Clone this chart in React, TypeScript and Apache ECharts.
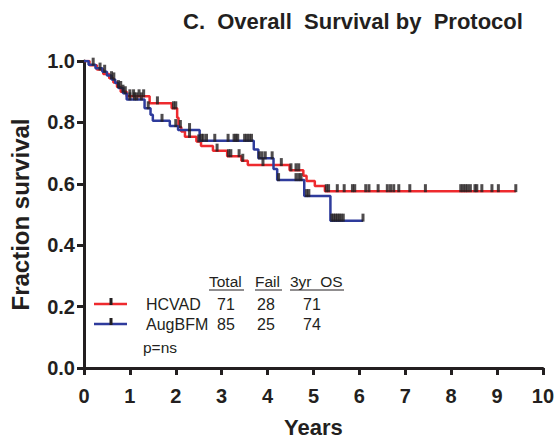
import React, { useEffect, useRef } from "react";
import * as echarts from "echarts";

// ---- data ----
const xTickLabels = ["0", "1", "2", "3", "4", "5", "6", "7", "8", "9", "10"];

const hcvadTimes = [0, 0.12, 0.28, 0.42, 0.55, 0.64, 0.72, 0.8, 0.93, 1.43, 1.91, 2.03, 2.06, 2.12, 2.2, 2.45, 2.55, 2.81, 3.12, 3.43, 3.57, 4.48, 4.78, 4.85, 5.03, 5.25, 9.41];
const hcvadSurv = [1, 0.986, 0.972, 0.958, 0.944, 0.93, 0.915, 0.9, 0.885, 0.862, 0.846, 0.815, 0.785, 0.77, 0.753, 0.738, 0.723, 0.708, 0.69, 0.675, 0.661, 0.644, 0.626, 0.609, 0.593, 0.576, 0.576];
const hcvadCensored = [0.35, 0.6, 0.75, 0.85, 1.0, 1.08, 1.2, 1.3, 1.6, 1.95, 2.0, 2.1, 2.3, 2.5, 2.9, 3.15, 3.2, 3.38, 3.46, 3.9, 4.3, 4.51, 4.62, 4.68, 5.28, 5.33, 5.52, 5.67, 5.85, 5.9, 6.14, 6.21, 6.41, 6.61, 6.68, 6.75, 6.86, 7.1, 7.44, 8.21, 8.26, 8.31, 8.36, 8.42, 8.52, 8.56, 8.67, 8.89, 9.03, 9.41];

const augTimes = [0, 0.1, 0.25, 0.4, 0.5, 0.6, 0.68, 0.75, 0.85, 0.93, 1.32, 1.45, 1.5, 1.87, 2.05, 2.52, 3.7, 3.8, 4.13, 4.21, 4.8, 5.37, 6.08];
const augSurv = [1, 0.988, 0.976, 0.965, 0.953, 0.94, 0.928, 0.912, 0.895, 0.875, 0.846, 0.825, 0.805, 0.788, 0.775, 0.74, 0.712, 0.683, 0.648, 0.612, 0.56, 0.48, 0.48];
const augCensored = [0.2, 0.45, 0.65, 0.8, 0.9, 1.0, 1.1, 1.15, 1.25, 1.4, 1.7, 2.0, 2.3, 2.56, 2.6, 2.67, 2.85, 3.14, 3.27, 3.31, 3.35, 3.5, 3.55, 3.6, 3.65, 3.82, 3.88, 3.95, 4.1, 4.24, 4.62, 4.68, 4.73, 4.85, 4.9, 5.4, 5.44, 5.48, 5.52, 5.56, 5.6, 5.65, 6.08];

const tableHeader = ["Total", "Fail", "3yr  OS"];
const groupNames = ["HCVAD", "AugBFM"];
const groupTotal = ["71", "85"];
const groupFail = ["28", "25"];
const group3yrOS = ["71", "74"];
const pText = "p=ns";

const RED = "#ee2a2e";
const BLUE = "#2e3b9c";
const INK = "#231f20";
const FONT = "'Liberation Sans', Arial, Helvetica, sans-serif";

function survAt(times: number[], surv: number[], t: number): number {
  let s = surv[0];
  for (let i = 0; i < times.length; i++) {
    if (times[i] <= t + 1e-9) s = surv[i];
  }
  return s;
}

export default function App() {
  const ref = useRef<HTMLDivElement>(null);
  useEffect(() => {
    if (!ref.current) return;
    const chart = echarts.init(ref.current, null, { renderer: "svg" });

    const redLine = hcvadTimes.map((t, i) => [t, hcvadSurv[i]]);
    const blueLine = augTimes.map((t, i) => [t, augSurv[i]]);
    const redCens = hcvadCensored.map((t) => [t, survAt(hcvadTimes, hcvadSurv, t)]);
    const blueCens = augCensored.map((t) => [t, survAt(augTimes, augSurv, t)]);

    const txt = (text: string, x: number, y: number, size: number, extra: any = {}) => ({
      type: "text",
      x,
      y,
      style: { text, fill: INK, font: `${size}px ${FONT}`, textVerticalAlign: "middle", ...extra },
    });

    const colX = [209, 255, 290];
    const headerWidths = [35, 27, 54];
    const rowY = [304, 324];

    const graphics: any[] = [];
    tableHeader.forEach((h, i) => {
      graphics.push(txt(h, colX[i], 281, 15.5));
      graphics.push({
        type: "line",
        shape: { x1: colX[i], y1: 290, x2: colX[i] + headerWidths[i], y2: 290 },
        style: { stroke: INK, lineWidth: 1 },
      });
    });
    [RED, BLUE].forEach((c, i) => {
      graphics.push({
        type: "line",
        shape: { x1: 94, y1: rowY[i], x2: 127, y2: rowY[i] },
        style: { stroke: c, lineWidth: 2.5 },
      });
      graphics.push({
        type: "rect",
        shape: { x: 109.5, y: rowY[i] - 6, width: 3, height: 7 },
        style: { fill: INK },
      });
      graphics.push(txt(groupNames[i], 146, rowY[i], 16));
      graphics.push(txt(groupTotal[i], 226, rowY[i], 16, { textAlign: "center" }));
      graphics.push(txt(groupFail[i], 266, rowY[i], 16, { textAlign: "center" }));
      graphics.push(txt(group3yrOS[i], 312, rowY[i], 16, { textAlign: "center" }));
    });
    graphics.push(txt(pText, 143, 347, 15.5));

    chart.setOption({
      animation: false,
      backgroundColor: "#ffffff",
      title: {
        text: "C.  Overall  Survival by  Protocol",
        left: 183,
        top: 10,
        padding: 0,
        textStyle: { fontSize: 22, fontWeight: "bold", color: INK, fontFamily: FONT },
      },
      grid: { left: 82, right: 14, top: 61, bottom: 75, containLabel: false },
      xAxis: {
        type: "value",
        min: 0,
        max: 10,
        interval: 1,
        name: "Years",
        nameLocation: "middle",
        nameGap: 48,
        nameTextStyle: { fontSize: 22, fontWeight: "bold", color: INK, fontFamily: FONT },
        axisLine: { show: true, lineStyle: { color: INK, width: 3 } },
        axisTick: { show: true, length: 7, lineStyle: { color: INK, width: 3 } },
        axisLabel: {
          margin: 18,
          fontSize: 20,
          fontWeight: "bold",
          color: INK,
          fontFamily: FONT,
          formatter: (v: number) => xTickLabels[Math.round(v)] ?? String(v),
        },
        splitLine: { show: false },
      },
      yAxis: {
        type: "value",
        min: 0,
        max: 1,
        interval: 0.2,
        name: "Fraction survival",
        nameLocation: "middle",
        nameGap: 52,
        nameTextStyle: { fontSize: 24, fontWeight: "bold", color: INK, fontFamily: FONT },
        axisLine: { show: true, lineStyle: { color: INK, width: 3 } },
        axisTick: { show: true, length: 7, lineStyle: { color: INK, width: 3 } },
        axisLabel: {
          margin: 9,
          fontSize: 20,
          fontWeight: "bold",
          color: INK,
          fontFamily: FONT,
          formatter: (v: number) => v.toFixed(1),
        },
        splitLine: { show: false },
      },
      series: [
        {
          name: "HCVAD",
          type: "line",
          step: "end",
          data: redLine,
          showSymbol: false,
          symbol: "none",
          lineStyle: { color: RED, width: 2.5 },
          z: 3,
        },
        {
          name: "AugBFM",
          type: "line",
          step: "end",
          data: blueLine,
          showSymbol: false,
          symbol: "none",
          lineStyle: { color: BLUE, width: 2.5 },
          z: 4,
        },
        {
          name: "HCVAD censored",
          type: "scatter",
          data: redCens,
          symbol: "rect",
          symbolSize: [3, 8],
          symbolOffset: [0, -3],
          itemStyle: { color: INK },
          z: 5,
        },
        {
          name: "AugBFM censored",
          type: "scatter",
          data: blueCens,
          symbol: "rect",
          symbolSize: [3, 8],
          symbolOffset: [0, -3],
          itemStyle: { color: INK },
          z: 5,
        },
      ],
      graphic: graphics,
    });
    return () => chart.dispose();
  }, []);
  return <div ref={ref} style={{ position: "fixed", left: 0, top: 0, width: 557, height: 443 }} />;
}
